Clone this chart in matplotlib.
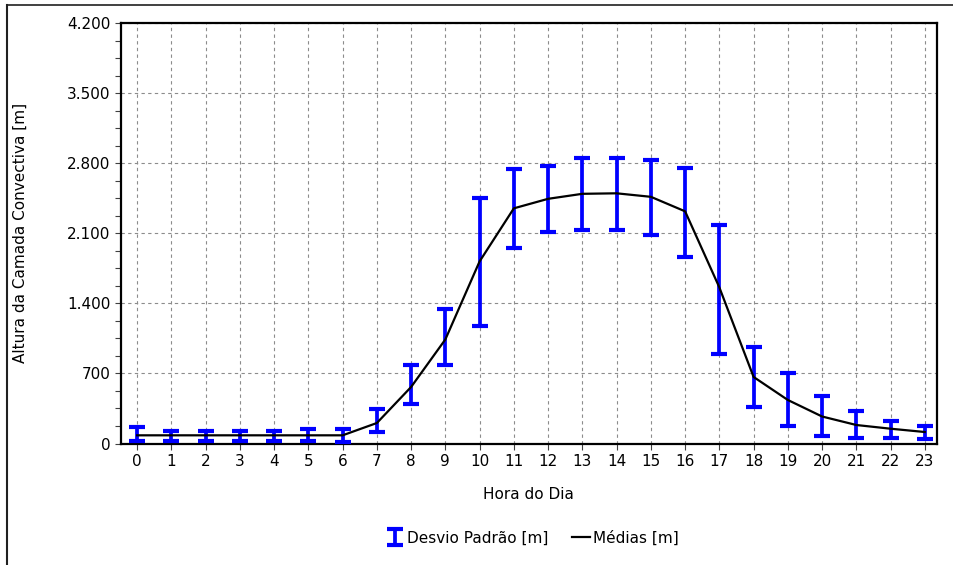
#!/usr/bin/env python3
"""
Altura da camada convectiva - media horaria e desvio padrao
"""

import matplotlib
matplotlib.use('Agg')
import matplotlib.pyplot as plt
from matplotlib.lines import Line2D
from matplotlib.ticker import FuncFormatter, MultipleLocator
import numpy as np

# Dados
horas = list(range(24))
medias = [82, 82, 82, 82, 82, 82, 82, 205, 565, 1040, 1820, 2350,
          2445, 2495, 2500, 2465, 2320, 1560, 665, 435, 270, 185, 148, 115]
desvio_sup = [167, 125, 125, 125, 125, 142, 145, 340, 782, 1345, 2458, 2741,
              2774, 2857, 2857, 2837, 2757, 2183, 964, 705, 473, 324, 227, 174]
desvio_inf = [25, 25, 25, 25, 25, 25, 18, 113, 390, 782, 1173, 1950,
              2117, 2133, 2133, 2084, 1867, 898, 367, 174, 75, 58, 58, 45]

y_ticks = [0, 700, 1400, 2100, 2800, 3500, 4200]

plt.rcParams['font.family'] = ['DejaVu Sans']
plt.rcParams['font.size'] = 11


def fmt_milhar(v, pos):
    return f"{int(round(v)):,}".replace(',', '.')


def main():
    fig = plt.figure(figsize=(9.54, 5.65), dpi=100)
    ax = fig.add_axes([0.1265, 0.215, 0.8555, 0.744])

    x = np.array(horas)
    med = np.array(medias)
    sup = np.array(desvio_sup)
    inf = np.array(desvio_inf)
    centro = (sup + inf) / 2.0
    yerr = [centro - inf, sup - centro]

    eb = ax.errorbar(x, centro, yerr=yerr, fmt='none', ecolor='#0000ff',
                     elinewidth=2.7, capsize=6, capthick=3, zorder=3)
    ln, = ax.plot(x, med, color='black', linewidth=1.6, zorder=4)

    ax.set_xlim(-0.48, 23.35)
    ax.set_ylim(0, 4200)
    ax.set_xticks(horas)
    ax.set_yticks(y_ticks)
    ax.yaxis.set_minor_locator(MultipleLocator(175))
    ax.yaxis.set_major_formatter(FuncFormatter(fmt_milhar))

    ax.grid(True, which='major', color='#8c8c8c', linestyle=(0, (3, 3)),
            linewidth=0.8)
    ax.set_axisbelow(True)

    ax.tick_params(which='both', direction='out', length=4, width=0.8,
                   color='#404040', labelsize=11)
    for s in ax.spines.values():
        s.set_linewidth(1.6)
        s.set_color('black')

    ax.set_xlabel('Hora do Dia', fontsize=11)
    ax.set_ylabel('Altura da Camada Convectiva [m]', fontsize=11)
    ax.xaxis.set_label_coords(0.5, -0.103)
    ax.yaxis.set_label_coords(-0.114, 0.5)

    fig.legend([eb, ln], ['Desvio Padrão [m]', 'Médias [m]'],
               loc='center', bbox_to_anchor=(0.558, 0.048), ncol=2,
               frameon=False, fontsize=11, handlelength=1.2,
               handletextpad=0.2, columnspacing=1.5)

    # moldura da figura (topo e esquerda)
    fig.add_artist(Line2D([0.0075, 1.0], [0.991, 0.991], color='#202020',
                          linewidth=1.2, transform=fig.transFigure))
    fig.add_artist(Line2D([0.0078, 0.0078], [0.0, 0.991], color='#202020',
                          linewidth=1.5, transform=fig.transFigure))

    fig.savefig('out.png', dpi=100)
    plt.close(fig)


if __name__ == "__main__":
    main()
